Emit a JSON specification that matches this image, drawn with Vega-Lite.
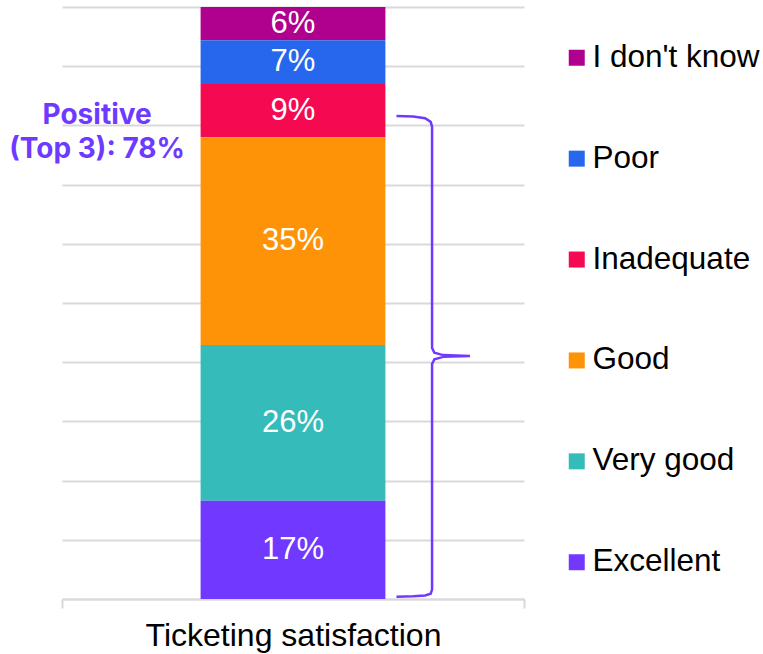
{
  "$schema": "https://vega.github.io/schema/vega-lite/v6.json",
  "width": 462,
  "height": 592,
  "autosize": {"type": "none"},
  "padding": {"left": 62, "top": 7, "right": 239, "bottom": 55},
  "background": "white",
  "config": {"view": {"stroke": null}, "font": "Liberation Sans"},
  "datasets": {
    "ratings": [
      {"question": "Ticketing satisfaction", "rating": "I don't know", "pct": 5.6, "rank": 6},
      {"question": "Ticketing satisfaction", "rating": "Poor", "pct": 7.4, "rank": 5},
      {"question": "Ticketing satisfaction", "rating": "Inadequate", "pct": 9.0, "rank": 4},
      {"question": "Ticketing satisfaction", "rating": "Good", "pct": 35.1, "rank": 3},
      {"question": "Ticketing satisfaction", "rating": "Very good", "pct": 26.3, "rank": 2},
      {"question": "Ticketing satisfaction", "rating": "Excellent", "pct": 16.6, "rank": 1}
    ],
    "brace": [
      {"i": 1, "bx": 72.4, "by": 81.6},
      {"i": 2, "bx": 76.0, "by": 81.5},
      {"i": 3, "bx": 78.6, "by": 81.2},
      {"i": 4, "bx": 79.8, "by": 80.6},
      {"i": 5, "bx": 80.1, "by": 79.8},
      {"i": 6, "bx": 80.1, "by": 42.4},
      {"i": 7, "bx": 80.6, "by": 41.6},
      {"i": 8, "bx": 82.5, "by": 41.2},
      {"i": 9, "bx": 88.3, "by": 41.05},
      {"i": 10, "bx": 82.5, "by": 40.9},
      {"i": 11, "bx": 80.6, "by": 40.5},
      {"i": 12, "bx": 80.1, "by": 39.7},
      {"i": 13, "bx": 80.1, "by": 1.6},
      {"i": 14, "bx": 79.8, "by": 0.9},
      {"i": 15, "bx": 78.6, "by": 0.6},
      {"i": 16, "bx": 76.0, "by": 0.45},
      {"i": 17, "bx": 72.4, "by": 0.4}
    ],
    "note": [
      {"nx": 7.6, "ny": 81.6, "label": "Positive\n(Top 3): 78%"}
    ]
  },
  "layer": [
    {
      "data": {"name": "ratings"},
      "transform": [
        {"stack": "pct", "groupby": ["question"], "sort": [{"field": "rank", "order": "ascending"}], "as": ["lo", "hi"]},
        {"calculate": "(datum.lo + datum.hi) / 2", "as": "mid"},
        {"calculate": "format(datum.pct, '.0f') + '%'", "as": "pctLabel"}
      ],
      "layer": [
        {
          "mark": {"type": "bar", "width": {"band": 0.4}},
          "encoding": {
            "x": {
              "field": "question", "type": "nominal",
              "scale": {"paddingInner": 0, "paddingOuter": 0},
              "axis": {
                "title": null, "labelAngle": 0, "labelFontSize": 32, "labelColor": "#000000",
                "labelFont": "Liberation Sans", "labelPadding": 12, "labelLimit": 500,
                "tickBand": "extent", "tickSize": 9, "tickColor": "#d9d9d9", "tickWidth": 2,
                "domainColor": "#d9d9d9", "domainWidth": 2, "grid": false
              }
            },
            "y": {
              "field": "lo", "type": "quantitative",
              "scale": {"domain": [0, 100], "nice": false},
              "axis": {
                "title": null, "labels": false, "ticks": false, "domain": false,
                "grid": true, "gridColor": "#d9d9d9", "gridWidth": 2,
                "values": [0, 10, 20, 30, 40, 50, 60, 70, 80, 90, 100]
              }
            },
            "y2": {"field": "hi"},
            "color": {
              "field": "rating", "type": "nominal",
              "scale": {
                "domain": ["I don't know", "Poor", "Inadequate", "Good", "Very good", "Excellent"],
                "range": ["#B0008E", "#2767EE", "#F50A52", "#FF9308", "#36BBBB", "#7139FF"]
              },
              "legend": {
                "title": null, "orient": "none", "legendX": 499, "legendY": 35,
                "symbolType": "square", "symbolSize": 256, "symbolStrokeWidth": 0,
                "labelFontSize": 31.5, "labelFont": "Liberation Sans", "labelColor": "#000000",
                "labelOffset": 0, "rowPadding": 67.9, "labelLimit": 300
              }
            }
          }
        },
        {
          "mark": {"type": "text", "color": "white", "fontSize": 31, "font": "Liberation Sans", "baseline": "middle"},
          "encoding": {
            "x": {"field": "question", "type": "nominal"},
            "y": {"field": "mid", "type": "quantitative"},
            "text": {"field": "pctLabel", "type": "nominal"}
          }
        }
      ]
    },
    {
      "data": {"name": "brace"},
      "mark": {"type": "line", "color": "#7139FF", "strokeWidth": 2.5, "interpolate": "linear"},
      "encoding": {
        "x": {"field": "bx", "type": "quantitative", "scale": {"domain": [0, 100], "nice": false}, "axis": null},
        "y": {"field": "by", "type": "quantitative"},
        "order": {"field": "i", "type": "quantitative"}
      }
    },
    {
      "data": {"name": "note"},
      "mark": {"type": "text", "color": "#6E3AFF", "fontSize": 28, "font": "Inter", "fontWeight": "bold", "lineBreak": "\n", "lineHeight": 34, "baseline": "middle", "align": "center"},
      "encoding": {
        "x": {"field": "nx", "type": "quantitative", "scale": {"domain": [0, 100], "nice": false}, "axis": null},
        "y": {"field": "ny", "type": "quantitative"},
        "text": {"field": "label"}
      }
    }
  ],
  "resolve": {"scale": {"x": "independent"}, "axis": {"x": "independent"}}
}
